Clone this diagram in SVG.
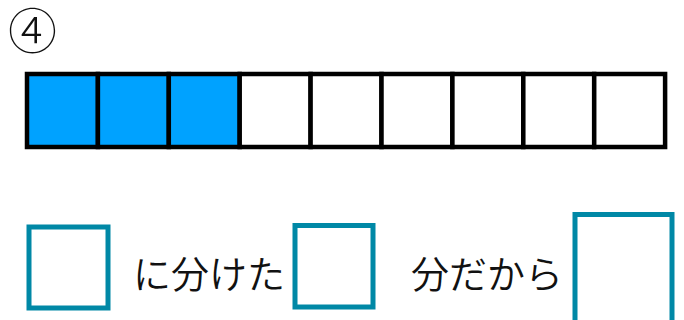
<svg xmlns="http://www.w3.org/2000/svg" width="684" height="320" viewBox="0 0 684 320">
<style>
.cell{fill:#ffffff;stroke:#000000;stroke-width:4.5}
.on{fill:#00A2FF}
.box{fill:#ffffff;stroke:#0088A6;stroke-width:5}
.t{font-family:"Noto Sans CJK JP","Noto Sans",sans-serif;font-weight:350;fill:#111111}
.num{font-weight:300;font-size:49px}
</style>
<rect width="684" height="320" fill="#ffffff"/>
<g id="label"><text class="t num" x="8" y="49">④</text></g>
<g id="bar">
<rect class="cell on" x="27" y="74" width="70.9" height="73"/>
<rect class="cell on" x="97.9" y="74" width="70.9" height="73"/>
<rect class="cell on" x="168.8" y="74" width="70.9" height="73"/>
<rect class="cell" x="239.7" y="74" width="70.9" height="73"/>
<rect class="cell" x="310.6" y="74" width="70.9" height="73"/>
<rect class="cell" x="381.5" y="74" width="70.9" height="73"/>
<rect class="cell" x="452.4" y="74" width="70.9" height="73"/>
<rect class="cell" x="523.3" y="74" width="70.9" height="73"/>
<rect class="cell" x="594.2" y="74" width="70.9" height="73"/>
</g>
<g id="box1"><rect class="box" x="29" y="227" width="79" height="81"/></g>
<g id="text1"><text class="t" x="133" y="288" font-size="38">に分けた</text></g>
<g id="box2"><rect class="box" x="295" y="225.5" width="78" height="81.5"/></g>
<g id="text2"><text class="t" x="411" y="288" font-size="38">分だから</text></g>
<g id="box3"><rect class="box" x="575" y="214.5" width="97" height="110"/></g>
</svg>
